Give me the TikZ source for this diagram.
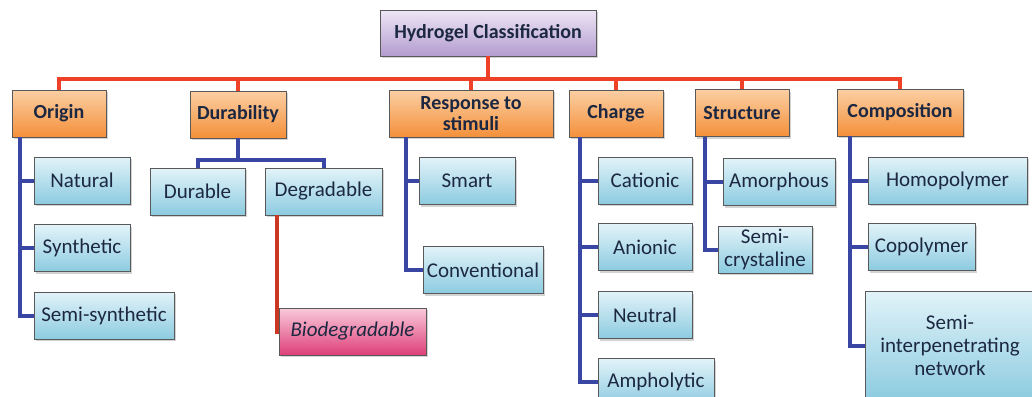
\documentclass[tikz,border=0pt]{standalone}
\usepackage{fontspec}
\setmainfont{Carlito}
\usetikzlibrary{positioning,shadows}
\definecolor{busred}{HTML}{EE4128}
\definecolor{trunkblue}{HTML}{3A46A3}
\definecolor{inktext}{HTML}{1C2841}
\definecolor{orangetop}{HTML}{FBCFA3}
\definecolor{orangebot}{HTML}{F4903A}
\definecolor{bluetop}{HTML}{E2F3F9}
\definecolor{bluebot}{HTML}{8CCBE0}
\definecolor{purpletop}{HTML}{EEE6F5}
\definecolor{purplebot}{HTML}{B39CCF}
\definecolor{pinktop}{HTML}{F9CADB}
\definecolor{pinkbot}{HTML}{DE3F78}

\begin{document}
\begin{tikzpicture}[x=0.5pt,y=-0.5pt,
 box/.style={draw=gray!70!black, line width=0.4pt, inner sep=1pt, minimum height=23.5pt, text=inktext, align=center,
   font=\fontsize{10.5}{11.5}\selectfont, drop shadow={shadow xshift=1pt,shadow yshift=-1.2pt,opacity=0.35}},
 headbox/.style={box, top color=orangetop, bottom color=orangebot, font=\bfseries\fontsize{10}{10.5}\selectfont},
 leafbox/.style={box, top color=bluetop, bottom color=bluebot},
 redline/.style={busred, line width=2pt},
 blueline/.style={trunkblue, line width=2pt}]

 \useasboundingbox (0,0) rectangle (1032,396);
 \clip (0,0) rectangle (1032,396);

 %Coordinates
 \coordinate (bus) at (488,79);

 %Title
 \node (title) [box, top color=purpletop, bottom color=purplebot, minimum width=108pt, minimum height=23pt,
   font=\bfseries\fontsize{10}{10.5}\selectfont] at (488,33) {Hydrogel Classification};

 %Heads
 \node (origin) [headbox, minimum width=47pt] at (59,113.5) {Origin};
 \node (durability) [headbox, minimum width=48pt] at (238,114.5) {Durability};
 \node (response) [headbox, minimum width=82pt] at (471,113.5) {Response to\\stimuli};
 \node (charge) [headbox, minimum width=47pt] at (616,113.5) {Charge};
 \node (structure) [headbox, minimum width=47pt] at (742,113) {Structure};
 \node (composition) [headbox, minimum width=63pt] at (900,112.5) {Composition};

 %Origin
 \node (natural) [leafbox, minimum width=48pt] at (82,180.5) {Natural};
 \node (synthetic) [leafbox, minimum width=48pt, below=10pt of natural] {Synthetic};
 \node (semisyn) [leafbox, minimum width=70pt] at (104,315.5) {Semi-synthetic};

 %Durability
 \node (durable) [leafbox, minimum width=47.5pt] at (197.5,191.5) {Durable};
 \node (degradable) [leafbox, minimum width=58.5pt] at (323.5,191.5) {Degradable};
 \node (bio) [box, top color=pinktop, bottom color=pinkbot, minimum width=73.5pt,
   font=\itshape\fontsize{10.5}{11.5}\selectfont] at (352.5,331.5) {Biodegradable};

 %Response
 \node (smart) [leafbox, minimum width=48pt] at (467,181) {Smart};
 \node (conventional) [leafbox, minimum width=60pt, inner xsep=0pt] at (483,270) {Conventional};

 %Charge
 \node (cationic) [leafbox, minimum width=47pt] at (645,180.5) {Cationic};
 \node (anionic) [leafbox, minimum width=47pt, below=9.5pt of cationic] {Anionic};
 \node (neutral) [leafbox, minimum width=47pt, below=10pt of anionic] {Neutral};
 \node (ampholytic) [leafbox, minimum width=58pt] at (656,382) {Ampholytic};

 %Structure
 \node (amorphous) [leafbox, minimum width=56pt] at (779,182) {Amorphous};
 \node (semicryst) [leafbox, minimum width=47pt] at (765,249.5) {Semi-\\crystaline};

 %Composition
 \node (homopolymer) [leafbox, minimum width=79.5pt] at (947.5,180.5) {Homopolymer};
 \node (copolymer) [leafbox, minimum width=53.5pt] at (921.5,247) {Copolymer};
 \node (semiipn) [leafbox, minimum width=85pt, minimum height=54.5pt] at (950,345.5) {Semi-\\interpenetrating\\network};

 %Bus
 \foreach \head in {origin,durability,response,charge,structure,composition}
  \draw[redline] (title.south) |- (\head.north |- bus) -- (\head.north);

 %Branches
 \foreach \leaf in {natural,synthetic,semisyn}
  \draw[blueline] ([xshift=4pt]origin.south west) |- (\leaf.west);
 \draw[blueline] (durability.south) -- ++(0,22) -| (durable.north);
 \draw[blueline] (durability.south) -- ++(0,22) -| (degradable.north);
 \draw[redline, busred!85!black] ([xshift=6pt]degradable.south west) |- (bio.west);
 \foreach \leaf in {smart,conventional}
  \draw[blueline] ([xshift=8.5pt]response.south west) |- (\leaf.west);
 \foreach \leaf in {cationic,anionic,neutral,ampholytic}
  \draw[blueline] ([xshift=5.5pt]charge.south west) |- (\leaf.west);
 \foreach \leaf in {amorphous,semicryst}
  \draw[blueline] ([xshift=5pt]structure.south west) |- (\leaf.west);
 \foreach \leaf in {homopolymer,copolymer,semiipn}
  \draw[blueline] ([xshift=6.5pt]composition.south west) |- (\leaf.west);

\end{tikzpicture}
\end{document}
